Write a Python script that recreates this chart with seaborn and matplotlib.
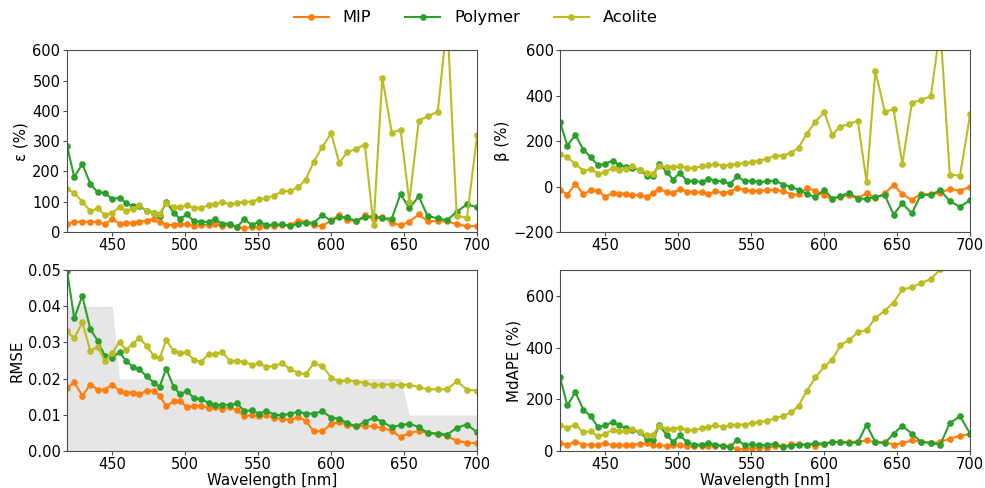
import matplotlib
matplotlib.use("Agg")
import matplotlib.pyplot as plt
import numpy as np
import pandas as pd
import seaborn as sns

# ---------------- data ----------------
wavelength = [419, 424, 429.5, 435, 440, 445, 450, 455, 459.5, 464, 468.5, 473.5, 478.5,
              482.5, 487, 492, 496.5, 501, 506, 511, 516, 520.5, 525.5, 530.5, 535.5,
              540.5, 545.5, 550.5, 555.5, 561, 566.5, 572, 577.5, 582.5, 588, 594, 600,
              605.5, 611, 617, 623, 629, 635, 641.5, 647.5, 653.5, 660, 666, 673, 679.5,
              686, 693, 700]

methods = ["MIP", "Polymer", "Acolite"]

eps_mip = [28, 33, 34, 33, 33, 25, 44, 27, 30, 30, 34, 38, 44, 34, 23, 23, 27, 25, 21, 23,
           23, 28, 20, 23, 16, 12, 18, 18, 19, 20, 22, 23, 38, 34, 22, 19, 39, 55, 39, 36,
           55, 42, 50, 31, 22, 34, 58, 36, 36, 36, 25, 19, 20]
eps_poly = [285, 181, 225, 159, 131, 129, 109, 113, 96, 85, 85, 71, 64, 53, 100, 64, 44, 58,
            36, 34, 33, 42, 27, 28, 16, 44, 22, 34, 23, 25, 25, 20, 27, 31, 31, 55, 38, 50,
            48, 36, 49, 53, 45, 44, 126, 78, 118, 53, 45, 39, 67, 91, 82]
eps_aco = [143, 129, 100, 69, 78, 56, 64, 82, 71, 77, 88, 71, 62, 61, 96, 82, 82, 88, 80, 80,
           88, 93, 99, 91, 96, 100, 100, 109, 111, 120, 135, 135, 149, 173, 231, 282, 326,
           228, 263, 275, 288, 22, 510, 328, 338, 100, 368, 382, 397, 700, 53, 47, 321]

beta_mip = [-15, -36, 12, -34, -15, -19, -44, -29, -31, -31, -36, -39, -44, -29, -9, -26, -29,
            -10, -22, -25, -25, -34, -19, -29, -22, -7, -15, -19, -18, -15, -15, -19, -36,
            -34, -7, -18, -39, -55, -44, -39, -51, -29, -51, -29, 7, -34, -58, -34, -34,
            -29, -10, -18, 0]
beta_poly = [285, 180, 228, 162, 130, 93, 101, 114, 96, 88, 82, 74, 48, 45, 101, 64, 31, 60,
             25, 25, 20, 35, 26, 23, 12, 45, 23, 26, 20, 23, 26, 9, -1, -16, -31, -47, -13,
             -53, -42, -28, -53, -54, -45, -38, -123, -74, -118, -38, -36, -16, -64, -89, -60]
beta_aco = [143, 130, 99, 70, 77, 57, 64, 82, 71, 77, 89, 74, 60, 57, 92, 86, 86, 89, 82, 82,
            89, 93, 99, 92, 96, 99, 104, 108, 114, 123, 136, 136, 150, 172, 232, 286, 328,
            228, 264, 276, 289, 20, 509, 330, 340, 99, 369, 381, 397, 700, 53, 48, 320]

rmse_mip = [0.0175, 0.0190, 0.0153, 0.0184, 0.0170, 0.0170, 0.0184, 0.0167, 0.0162, 0.0162,
            0.0157, 0.0167, 0.0167, 0.0153, 0.0124, 0.0138, 0.0140, 0.0121, 0.0125, 0.0125,
            0.0120, 0.0121, 0.0116, 0.0121, 0.0113, 0.0097, 0.0099, 0.0097, 0.0099, 0.0092,
            0.0090, 0.0086, 0.0095, 0.0084, 0.0055, 0.0056, 0.0075, 0.0081, 0.0072, 0.0069,
            0.0070, 0.0069, 0.0065, 0.0056, 0.0040, 0.0051, 0.0056, 0.0051, 0.0047, 0.0042,
            0.0029, 0.0024, 0.0023]
rmse_poly = [0.0497, 0.0366, 0.0428, 0.0336, 0.0305, 0.0262, 0.0258, 0.0273, 0.0249, 0.0233,
             0.0226, 0.0207, 0.0189, 0.0178, 0.0228, 0.0178, 0.0157, 0.0166, 0.0147, 0.0143,
             0.0134, 0.0127, 0.0129, 0.0127, 0.0132, 0.0111, 0.0113, 0.0104, 0.0111, 0.0101,
             0.0099, 0.0104, 0.0109, 0.0104, 0.0104, 0.0110, 0.0093, 0.0090, 0.0078, 0.0069,
             0.0081, 0.0093, 0.0081, 0.0067, 0.0072, 0.0076, 0.0067, 0.0051, 0.0049, 0.0046,
             0.0065, 0.0074, 0.0052]
rmse_aco = [0.0330, 0.0311, 0.0355, 0.0276, 0.0288, 0.0249, 0.0270, 0.0302, 0.0279, 0.0295,
            0.0313, 0.0290, 0.0263, 0.0256, 0.0307, 0.0276, 0.0270, 0.0273, 0.0251, 0.0247,
            0.0267, 0.0268, 0.0273, 0.0249, 0.0249, 0.0247, 0.0238, 0.0242, 0.0233, 0.0235,
            0.0242, 0.0226, 0.0216, 0.0212, 0.0242, 0.0235, 0.0203, 0.0193, 0.0196, 0.0192,
            0.0189, 0.0182, 0.0184, 0.0184, 0.0182, 0.0184, 0.0176, 0.0171, 0.0171, 0.0171,
            0.0193, 0.0170, 0.0167]
# requirement band shown in grey on the RMSE panel
rmse_req = [0.04] * 7 + [0.02] * 38 + [0.01] * 8

mdape_mip = [32, 26, 38, 26, 26, 26, 32, 23, 23, 23, 26, 29, 32, 26, 23, 22, 23, 26, 19, 19,
             22, 22, 22, 19, 19, 9, 10, 13, 15, 15, 19, 19, 28, 28, 26, 22, 29, 38, 36, 36,
             38, 42, 36, 36, 26, 32, 42, 38, 32, 36, 49, 60, 67]
mdape_poly = [285, 177, 228, 160, 135, 94, 100, 113, 100, 90, 81, 74, 49, 45, 100, 64, 36, 62,
              36, 26, 26, 32, 26, 22, 17, 45, 23, 28, 23, 26, 28, 17, 22, 26, 26, 32, 29, 36,
              36, 32, 35, 103, 35, 32, 68, 99, 68, 38, 32, 26, 109, 135, 68]
mdape_aco = [103, 90, 103, 73, 77, 58, 68, 83, 77, 77, 87, 74, 62, 62, 99, 86, 86, 92, 83, 81,
             90, 94, 100, 94, 100, 103, 103, 109, 112, 118, 128, 137, 151, 176, 233, 285, 327,
             353, 408, 429, 458, 468, 513, 542, 573, 624, 632, 647, 664, 701, 740, 770, 800]

x_ticks = [450, 500, 550, 600, 650, 700]

# ---------------- styling ----------------
plt.rcParams['font.family'] = ['DejaVu Sans']
plt.rcParams['font.size'] = 10.5
plt.rcParams['axes.labelsize'] = 10.8
plt.rcParams['xtick.labelsize'] = 10.5
plt.rcParams['ytick.labelsize'] = 10.5
plt.rcParams['xtick.major.pad'] = 1.0
plt.rcParams['ytick.major.pad'] = 1.5
plt.rcParams['xtick.major.size'] = 3.2
plt.rcParams['ytick.major.size'] = 3.2
plt.rcParams['axes.labelpad'] = 2.5
plt.rcParams['axes.edgecolor'] = '0.3'
plt.rcParams['axes.linewidth'] = 0.8
plt.rcParams['xtick.color'] = '0.3'
plt.rcParams['ytick.color'] = '0.3'
plt.rcParams['xtick.labelcolor'] = 'black'
plt.rcParams['ytick.labelcolor'] = 'black'

palette = {"MIP": "#ff7f0e", "Polymer": "#2ca02c", "Acolite": "#bcbd22"}

fig, axes = plt.subplots(2, 2, figsize=(9.85, 4.88), dpi=100)
fig.subplots_adjust(left=0.068, right=0.985, top=0.897, bottom=0.075,
                    wspace=0.202, hspace=0.207)

panels = [
    (axes[0, 0], "ε (%)", [eps_mip, eps_poly, eps_aco], (0, 600), [0, 100, 200, 300, 400, 500, 600]),
    (axes[0, 1], "β (%)", [beta_mip, beta_poly, beta_aco], (-200, 600), [-200, 0, 200, 400, 600]),
    (axes[1, 0], "RMSE", [rmse_mip, rmse_poly, rmse_aco], (0, 0.05), [0.0, 0.01, 0.02, 0.03, 0.04, 0.05]),
    (axes[1, 1], "MdAPE (%)", [mdape_mip, mdape_poly, mdape_aco], (0, 700), [0, 200, 400, 600]),
]

for i, (ax, ylabel, series, ylim, yticks) in enumerate(panels):
    if ylabel == "RMSE":
        ax.fill_between(wavelength, 0, rmse_req, color="#e6e6e6", linewidth=0, zorder=0)
    df = pd.concat([
        pd.DataFrame({"wavelength": wavelength, "value": vals, "method": m})
        for m, vals in zip(methods, series)
    ], ignore_index=True)
    sns.lineplot(data=df, x="wavelength", y="value", hue="method", hue_order=methods,
                 palette=palette, marker="o", markersize=4.8, markeredgewidth=0,
                 linewidth=1.5, estimator=None, sort=False, ax=ax, zorder=2)
    ax.set_xlim(wavelength[0], wavelength[-1])
    ax.set_ylim(*ylim)
    ax.set_xticks(x_ticks)
    ax.set_yticks(yticks)
    if ylabel == "RMSE":
        ax.set_yticklabels([f"{t:.2f}" for t in yticks])
    ax.set_ylabel(ylabel)
    if i >= 2:
        ax.set_xlabel("Wavelength [nm]", labelpad=0.3)
    else:
        ax.set_xlabel("")
    if i == 0:
        handles, labels = ax.get_legend_handles_labels()
    ax.get_legend().remove()

fig.legend(handles, labels, loc="upper center", ncol=3, frameon=False,
           bbox_to_anchor=(0.483, 1.009), fontsize=11.7, columnspacing=2.1,
           handlelength=2.15, handletextpad=0.85)

fig.savefig("out.png", dpi=100)
